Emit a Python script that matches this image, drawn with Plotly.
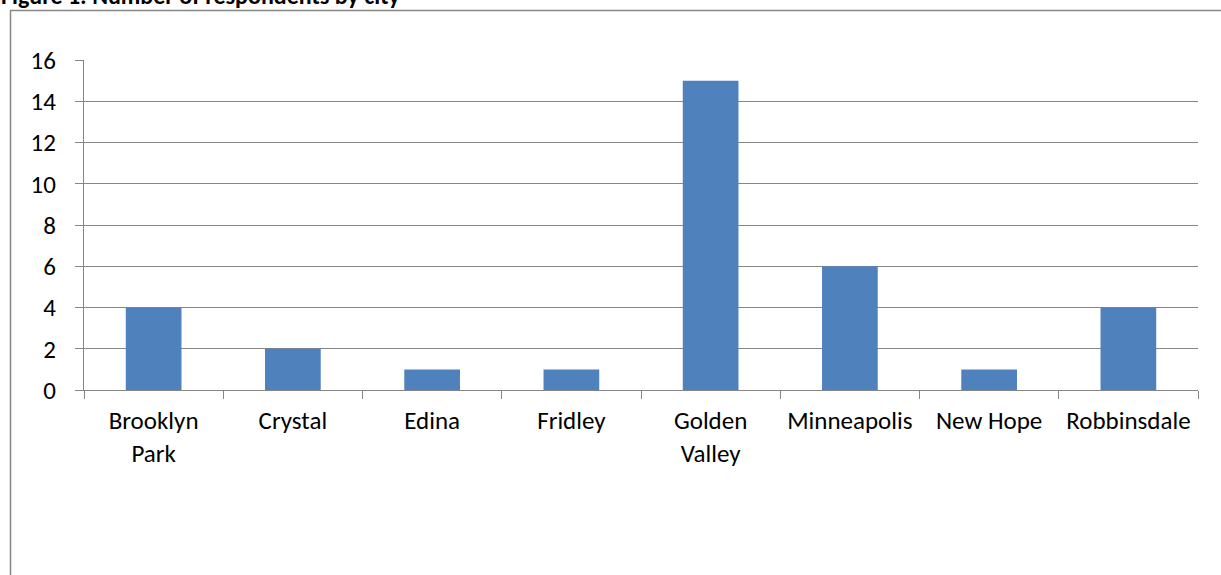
import plotly.graph_objects as go

cities = ["Brooklyn<br>Park", "Crystal", "Edina", "Fridley", "Golden<br>Valley",
          "Minneapolis", "New Hope", "Robbinsdale"]
respondents = [4, 2, 1, 1, 15, 6, 1, 4]
y_ticks = [0, 2, 4, 6, 8, 10, 12, 14, 16]
title_text = "Figure 1: Number of respondents by city"

W, H = 1221, 575
L, R, T, B = 84, 23, 60, 185
pw = W - L - R
ph = H - T - B

def px_x(px):
    return (px - L) / pw

def px_y(py):
    return (H - B - py) / ph

font_family = "Carlito, Calibri, 'Open Sans', 'Noto Sans', sans-serif"

fig = go.Figure(go.Bar(x=cities, y=respondents, marker=dict(color="#4F81BD", line=dict(width=0))))

fig.update_layout(
    width=W, height=H,
    margin=dict(l=L, r=R, t=T, b=B, pad=0, autoexpand=False),
    paper_bgcolor="white", plot_bgcolor="white",
    bargap=0.6,
    showlegend=False,
    font=dict(family=font_family, size=25, color="black"),
    xaxis=dict(
        showline=True, linecolor="#868686", linewidth=1.3,
        ticks="outside", ticklen=8, tickcolor="#868686", tickwidth=1.3,
        tickson="boundaries", showgrid=False, ticklabelstandoff=8,
        tickangle=0, automargin=False,
        tickfont=dict(size=25),
    ),
    yaxis=dict(
        range=[0, 16], tickvals=y_ticks,
        showline=True, linecolor="#868686", linewidth=1.3,
        ticks="outside", ticklen=8, tickcolor="#868686", tickwidth=1.3,
        showgrid=True, gridcolor="#868686", gridwidth=1.3,
        zeroline=False, ticklabelstandoff=14, automargin=False,
        tickfont=dict(size=25),
    ),
    shapes=[
        dict(type="rect", xref="paper", yref="paper",
             x0=px_x(10.5), x1=px_x(1240), y0=px_y(10.5), y1=px_y(600),
             line=dict(color="#868686", width=1.5), fillcolor="rgba(0,0,0,0)", layer="below"),
    ],
    annotations=[
        dict(text="<b>" + title_text + "</b>", xref="paper", yref="paper",
             x=px_x(0), y=px_y(11), xanchor="left", yanchor="bottom",
             showarrow=False, borderpad=0, font=dict(size=24, family=font_family)),
    ],
)

fig.write_html("out.html", config={"displayModeBar": False},
               post_script="document.body.style.margin='0';document.body.style.overflow='hidden';")
